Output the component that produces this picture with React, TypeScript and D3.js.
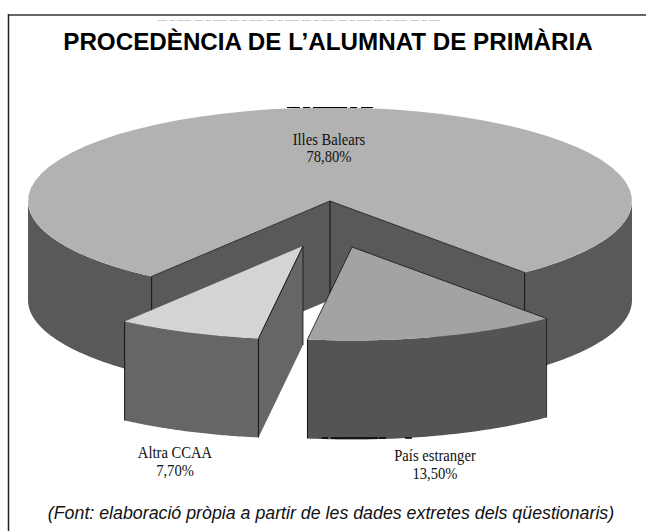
import React from "react";
import * as d3 from "d3";

const categories = ["Illes Balears", "País estranger", "Altra CCAA"];
const values = [78.8, 13.5, 7.7];
const valueLabels = ["78,80%", "13,50%", "7,70%"];
const title = "PROCEDÈNCIA DE L’ALUMNAT DE PRIMÀRIA";
const source = "(Font: elaboració pròpia a partir de les dades extretes dels qüestionaris)";

const topColors = ["#b2b2b2", "#a3a3a3", "#d4d4d4"];
const sideColors = ["#595959", "#545454", "#666666"];
const offsets = [[0, 0], [22, 46], [-27, 45]];
const labelPos = [[329, 145], [435, 461], [175, 458]];

const cx = 330, cy = 201, rx = 302, ry = 93.5, depth = 99;
const deg = Math.PI / 180;

// pie starts at the left cut of the big slice, clockwise from 12 o'clock
const pie = d3.pie<number>().sort(null).startAngle(216.2 * deg).endAngle(576.2 * deg);
const slices = pie(values);

const px = (a: number) => rx * Math.sin(a);
const py = (a: number) => -ry * Math.cos(a);
const line = d3.line<[number, number]>();

function arcPoints(a0: number, a1: number, dy = 0): [number, number][] {
  return d3.range(0, 61).map(i => {
    const a = a0 + ((a1 - a0) * i) / 60;
    return [px(a), py(a) + dy] as [number, number];
  });
}

// outer wall, only the part of the arc that faces the viewer
function wall(a0: number, a1: number) {
  const pts = [...arcPoints(a0, a1), ...arcPoints(a1, a0, depth)];
  return line(pts) + "Z";
}

const Edge = ({ x1, y1, x2, y2, w = 1 }: any) => (
  <line x1={x1} y1={y1} x2={x2} y2={y2} stroke="#111" strokeWidth={w} />
);

const Slice = ({ i }: { i: number }) => {
  const s = slices[i];
  const [dx, dy] = offsets[i];
  const top = line([[0, 0], ...arcPoints(s.startAngle, s.endAngle)]) + "Z";
  const ax = px(s.startAngle), ay = py(s.startAngle);
  const bx = px(s.endAngle), by = py(s.endAngle);
  return (
    <g transform={`translate(${cx + dx},${cy + dy})`}>
      {i === 2 && (
        <path d={line([[0, 0], [ax, ay], [ax, ay + depth], [0, depth]]) + "Z"} fill={sideColors[i]} />
      )}
      <path d={wall(s.startAngle, s.endAngle)} fill={sideColors[i]} />
      <path d={top} fill={topColors[i]} />
      {i === 2 && <Edge x1={0} y1={0} x2={ax} y2={ay} />}
      {i === 2 && <Edge x1={0} y1={0} x2={0} y2={depth} w={0.8} />}
      {i === 2 && <Edge x1={ax} y1={ay} x2={ax} y2={ay + depth} />}
      {i === 2 && <Edge x1={bx} y1={by} x2={bx} y2={by + depth} />}
      {i === 1 && <Edge x1={0} y1={0} x2={bx} y2={by} w={0.8} />}
      {i === 1 && <Edge x1={0} y1={0} x2={ax} y2={ay} w={0.8} />}
      {i === 1 && <Edge x1={ax} y1={ay} x2={ax} y2={ay + depth} w={0.8} />}
      {i === 1 && <Edge x1={bx} y1={by} x2={bx} y2={by + depth} />}
    </g>
  );
};

const MainSlice = () => {
  const s = slices[0];
  const a0 = s.startAngle, a1 = s.endAngle;
  const top = line([[0, 0], ...arcPoints(a0, a1)]) + "Z";
  const lx = px(a0), ly = py(a0), rxx = px(a1), ryy = py(a1);
  return (
    <g transform={`translate(${cx},${cy})`}>
      <path d={wall(a0, 270 * deg)} fill={sideColors[0]} />
      <path d={wall(450 * deg, a1)} fill={sideColors[0]} />
      <path d={line([[0, 0], [lx, ly], [lx, ly + depth], [0, depth]]) + "Z"} fill={sideColors[0]} />
      <path d={line([[0, 0], [rxx, ryy], [rxx, ryy + depth], [0, depth]]) + "Z"} fill={sideColors[0]} />
      <path d={top} fill={topColors[0]} />
      <Edge x1={0} y1={0} x2={lx} y2={ly} w={0.8} />
      <Edge x1={0} y1={0} x2={rxx} y2={ryy} w={0.8} />
      <Edge x1={0} y1={0} x2={0} y2={depth} />
      <Edge x1={lx} y1={ly} x2={lx} y2={ly + depth} />
      <Edge x1={rxx} y1={ryy} x2={rxx} y2={ryy + depth} />
    </g>
  );
};

export default function App() {
  return (
    <svg
      width={646}
      height={531}
      style={{ position: "absolute", left: 0, top: 0, background: "#fff" }}
    >
      {/* frame of the scanned page */}
      <line x1={8} y1={15} x2={646} y2={15} stroke="#666" strokeWidth={2} />
      <line x1={8.5} y1={14} x2={8.5} y2={531} stroke="#222" strokeWidth={1.5} />
      {/* clipped remains of the text behind the title */}
      <line x1={158} y1={20.5} x2={440} y2={20.5} stroke="#ccc" strokeWidth={1} strokeDasharray="9 3 5 2 14 3" />
      <text
        x={328}
        y={50}
        textAnchor="middle"
        fontFamily="Liberation Sans"
        fontWeight="bold"
        fontSize={24.2}
        fill="#000"
      >
        {title}
      </text>
      <MainSlice />
      <Slice i={2} />
      <Slice i={1} />
      {/* scan leftovers on the pie rim */}
      <line x1={287} y1={107.5} x2={373} y2={107.5} stroke="#000" strokeWidth={1.2} strokeDasharray="13 3 7 3 34 3 7 4 12" />
      <line x1={322} y1={438} x2={412} y2={438} stroke="#000" strokeWidth={1.5} strokeDasharray="6 3 47 1 7 19 7" />
      {categories.map((c, i) => (
        <text
          key={c}
          transform={`translate(${labelPos[i][0]},${labelPos[i][1]}) scale(0.86,1)`}
          textAnchor="middle"
          fontFamily="Liberation Serif"
          fontSize={17}
          fill="#111"
        >
          <tspan x={0}>{c}</tspan>
          <tspan x={0} dy={i === 0 ? 17 : 18}>{valueLabels[i]}</tspan>
        </text>
      ))}
      <text
        x={331}
        y={519}
        textAnchor="middle"
        fontFamily="Liberation Sans"
        fontStyle="italic"
        fontSize={17.8}
        fill="#111"
      >
        {source}
      </text>
    </svg>
  );
}
